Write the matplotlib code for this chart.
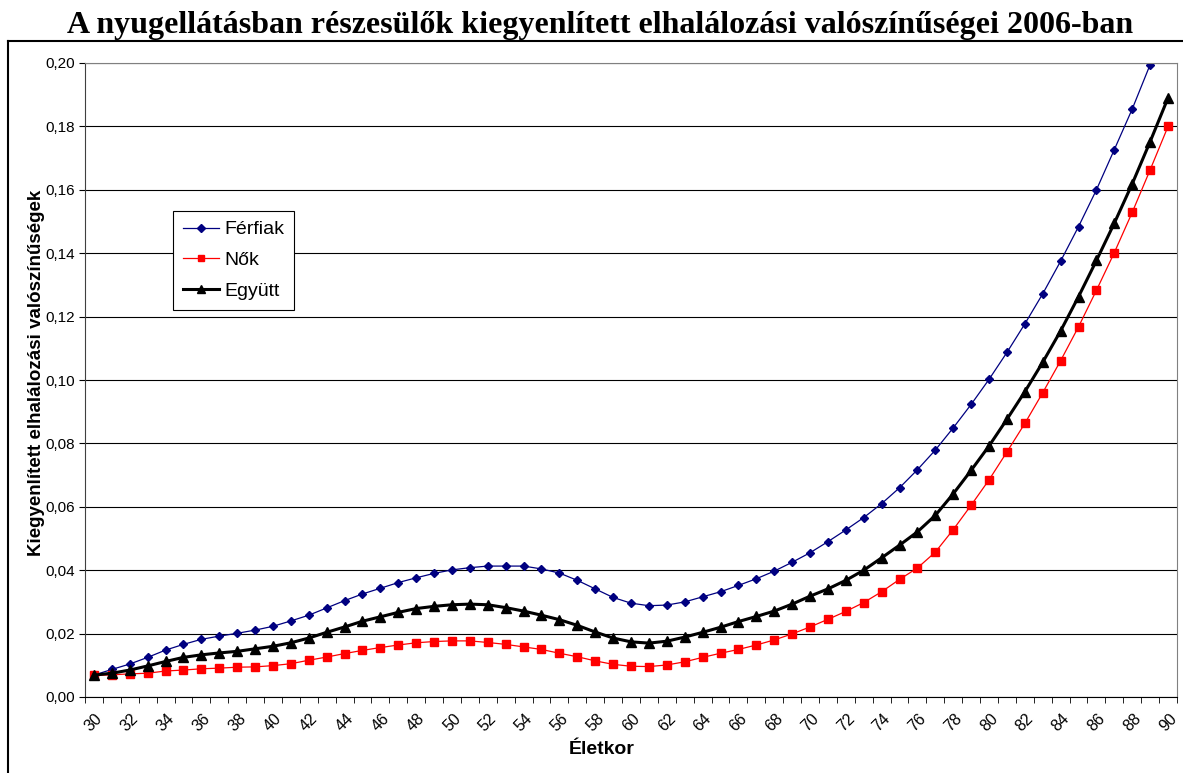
import matplotlib.pyplot as plt
from matplotlib.lines import Line2D
from matplotlib.ticker import FuncFormatter, MultipleLocator

plt.rcParams['font.family'] = ['Liberation Sans', 'DejaVu Sans']

ages = list(range(30, 91))

ferfiak = [0.0069, 0.0087, 0.0104, 0.0125, 0.0148, 0.0166, 0.0182, 0.0192, 0.0201, 0.0211,
           0.0223, 0.0240, 0.0258, 0.0281, 0.0304, 0.0325, 0.0343, 0.0361, 0.0376, 0.0390,
           0.0401, 0.0408, 0.0413, 0.0413, 0.0413, 0.0404, 0.0391, 0.0368, 0.0341, 0.0314,
           0.0296, 0.0288, 0.0290, 0.0300, 0.0316, 0.0332, 0.0352, 0.0373, 0.0397, 0.0425,
           0.0455, 0.0490, 0.0527, 0.0566, 0.0610, 0.0660, 0.0717, 0.0779, 0.0849, 0.0923,
           0.1002, 0.1087, 0.1177, 0.1272, 0.1375, 0.1484, 0.1600, 0.1727, 0.1855, 0.1995,
           0.2150]

nok = [0.0068, 0.0070, 0.0073, 0.0075, 0.0082, 0.0085, 0.0089, 0.0091, 0.0094, 0.0095,
       0.0099, 0.0105, 0.0116, 0.0126, 0.0137, 0.0147, 0.0156, 0.0164, 0.0171, 0.0175,
       0.0177, 0.0177, 0.0172, 0.0166, 0.0158, 0.0150, 0.0138, 0.0127, 0.0114, 0.0103,
       0.0097, 0.0096, 0.0101, 0.0111, 0.0125, 0.0138, 0.0150, 0.0164, 0.0180, 0.0199,
       0.0221, 0.0245, 0.0270, 0.0298, 0.0332, 0.0371, 0.0407, 0.0457, 0.0528, 0.0605,
       0.0685, 0.0773, 0.0863, 0.0960, 0.1061, 0.1168, 0.1283, 0.1402, 0.1529, 0.1663,
       0.1800]

egyutt = [0.0069, 0.0075, 0.0085, 0.0098, 0.0112, 0.0125, 0.0133, 0.0139, 0.0144, 0.0152,
          0.0160, 0.0171, 0.0186, 0.0204, 0.0221, 0.0239, 0.0253, 0.0267, 0.0279, 0.0286,
          0.0291, 0.0293, 0.0291, 0.0282, 0.0271, 0.0258, 0.0244, 0.0226, 0.0205, 0.0186,
          0.0174, 0.0170, 0.0176, 0.0189, 0.0204, 0.0220, 0.0238, 0.0254, 0.0271, 0.0293,
          0.0318, 0.0341, 0.0368, 0.0400, 0.0439, 0.0479, 0.0521, 0.0573, 0.0641, 0.0715,
          0.0792, 0.0876, 0.0963, 0.1056, 0.1155, 0.1263, 0.1377, 0.1495, 0.1619, 0.1752,
          0.1890]

title = 'A nyugellátásban részesülők kiegyenlített elhalálozási valószínűségei 2006-ban'

fig = plt.figure(figsize=(11.83, 7.73), dpi=100)
ax = fig.add_axes([85 / 1183, 1 - 697 / 773, 1092 / 1183, 634 / 773])

x = list(range(len(ages)))
ax.plot(x, ferfiak, color='#000080', lw=0.9, marker='D', ms=4.5, label='Férfiak')
ax.plot(x, nok, color='#ff0000', lw=0.9, marker='s', ms=5.5, label='Nők')
ax.plot(x, egyutt, color='black', lw=2.2, marker='^', ms=6.5, label='Együtt')

ax.set_xlim(-0.5, len(ages) - 0.5)
ax.set_ylim(0, 0.20)
ax.yaxis.set_major_locator(MultipleLocator(0.02))
ax.yaxis.set_major_formatter(FuncFormatter(lambda v, p: f'{v:.2f}'.replace('.', ',')))
ax.grid(axis='y', color='black', lw=0.8)
ax.set_axisbelow(True)

ax.set_xticks(x[::2])
ax.set_xticklabels([str(a) for a in ages[::2]], rotation=45, ha='center', va='top')
ax.set_xticks([i - 0.5 for i in range(len(ages) + 1)], minor=True)
ax.tick_params(axis='x', which='major', length=0, pad=10, labelsize=11.5)
ax.tick_params(axis='x', which='minor', length=4, direction='out')
ax.tick_params(axis='y', length=4, labelsize=11)

for s in ['top', 'right']:
    ax.spines[s].set_color('#808080')
ax.spines['left'].set_color('#404040')

ax.set_xlabel('Életkor', fontsize=14, fontweight='bold', va='top')
ax.xaxis.set_label_coords((602 - 85) / 1092, -(741 - 697) / 634)
ax.set_ylabel('Kiegyenlített elhalálozási valószínűségek', fontsize=13.5, fontweight='bold')
ax.yaxis.set_label_coords(-(85 - 45) / 1092, (697 - 373) / 634)

leg = ax.legend(loc='upper left', bbox_to_anchor=(0.0806, 0.7666), fontsize=14,
                fancybox=False, edgecolor='black', framealpha=1, handlelength=1.85,
                labelspacing=0.68, borderpad=0.5, handletextpad=0.3, borderaxespad=0,
                markerscale=0.9)
leg.get_frame().set_linewidth(0.8)

fig.text(600 / 1183, 1 - 25 / 773, title, ha='center', va='center', fontsize=23,
         fontweight='bold', family=['Liberation Serif', 'DejaVu Serif'])

# outer chart border
fig.add_artist(Line2D([8 / 1183, 8 / 1183], [0, 1 - 41 / 773], color='black', lw=1.5))
fig.add_artist(Line2D([8 / 1183, 1], [1 - 41 / 773, 1 - 41 / 773], color='black', lw=1.5))

plt.savefig('out.png', dpi=100)
